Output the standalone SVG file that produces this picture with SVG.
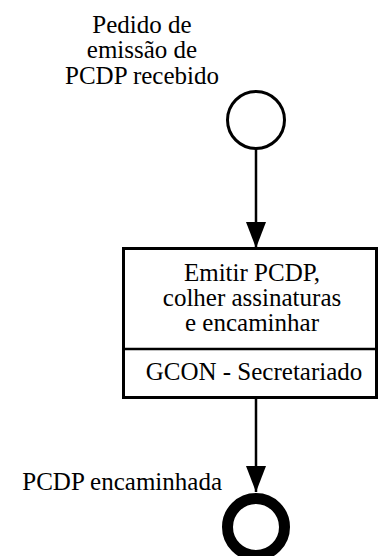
<svg xmlns="http://www.w3.org/2000/svg" width="379" height="556" viewBox="0 0 379 556">
<style>
text{font-family:"Liberation Serif","Times New Roman",serif;font-size:25px;fill:#000}
.c{text-anchor:middle}
.ln{stroke:#000;stroke-width:2.5;fill:none}
</style>
<defs>
<marker id="ah" viewBox="0 0 26 20" refX="26" refY="10" markerWidth="26" markerHeight="20" markerUnits="userSpaceOnUse" orient="auto">
<path d="M0,0 L26,10 L0,20 Z" fill="#000"/>
</marker>
</defs>
<rect width="379" height="556" fill="#fff"/>
<g id="connectors">
<line class="ln" x1="256" y1="149" x2="256" y2="248" marker-end="url(#ah)"/>
<line class="ln" x1="256" y1="398" x2="256" y2="492" marker-end="url(#ah)"/>
</g>
<g id="start">
<circle cx="256" cy="120" r="28.5" fill="#fff" stroke="#000" stroke-width="3"/>
<text class="c" x="142" y="33">Pedido de</text>
<text class="c" x="142" y="58">emissão de</text>
<text class="c" x="142" y="84">PCDP recebido</text>
</g>
<g id="task">
<rect x="123.5" y="248.5" width="253" height="149" fill="#fff" stroke="#000" stroke-width="3"/>
<line x1="123.5" y1="349" x2="376.5" y2="349" stroke="#000" stroke-width="2.5"/>
<text class="c" x="252" y="281">Emitir PCDP,</text>
<text class="c" x="252" y="306">colher assinaturas</text>
<text class="c" x="252" y="331">e encaminhar</text>
<text class="c" x="254" y="380">GCON - Secretariado</text>
</g>
<g id="end">
<circle cx="256" cy="527" r="28.5" fill="#fff" stroke="#000" stroke-width="11"/>
<text x="222" y="490" text-anchor="end">PCDP encaminhada</text>
</g>
</svg>
